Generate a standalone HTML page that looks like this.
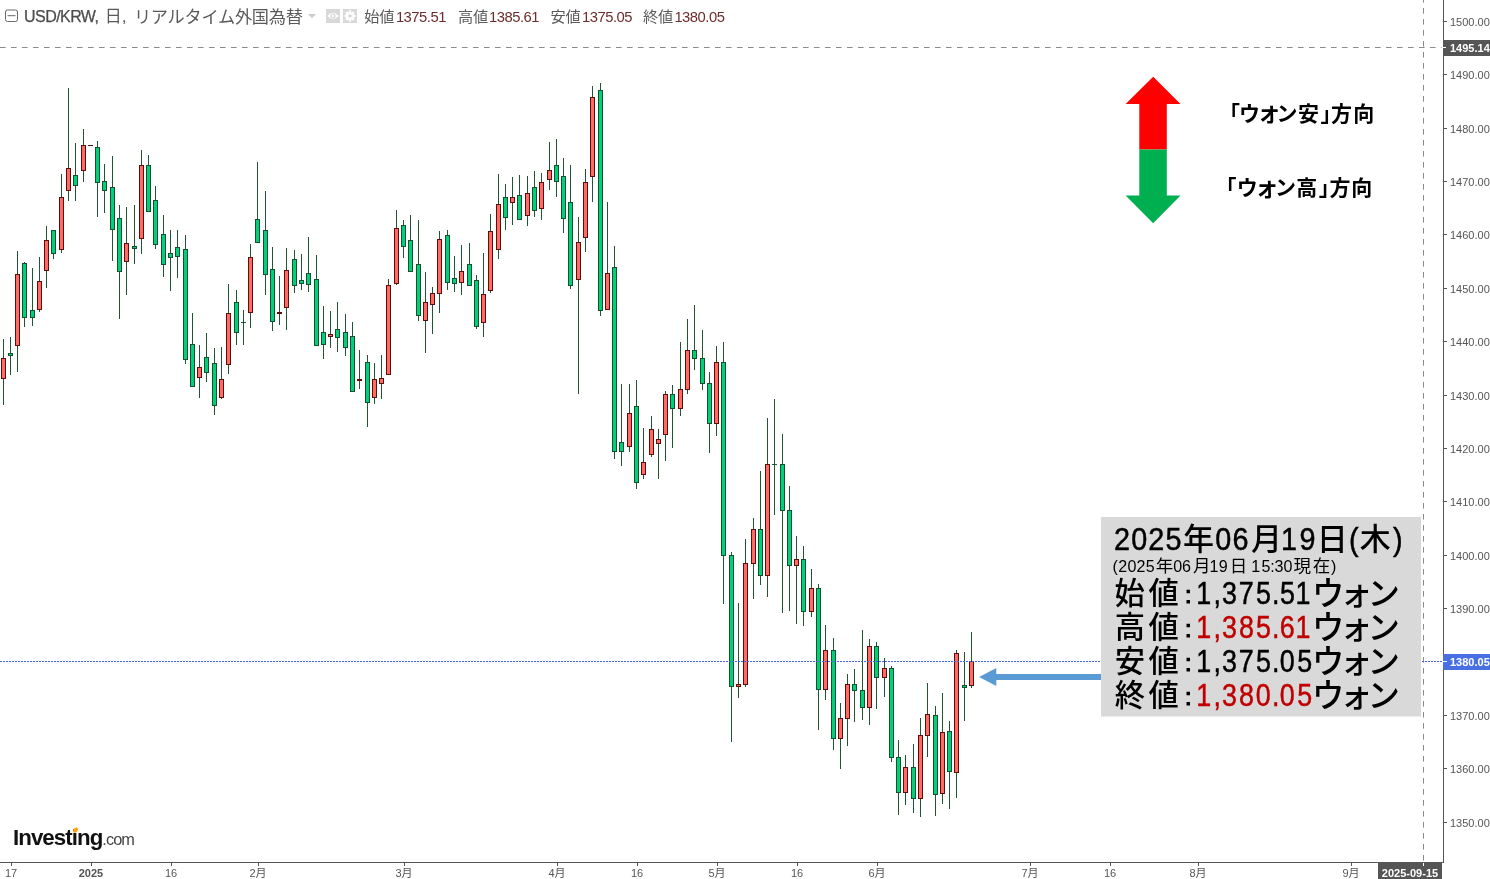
<!DOCTYPE html>
<html lang="ja">
<head>
<meta charset="utf-8">
<title>USD/KRW</title>
<style>
html,body{margin:0;padding:0;background:#fff;}
body{width:1490px;height:879px;position:relative;overflow:hidden;font-family:"Liberation Sans","Noto Sans CJK JP",sans-serif;}
.chart{position:absolute;left:0;top:0;}
.t{position:absolute;white-space:nowrap;line-height:1;}
.yl{position:absolute;left:1450px;font-size:11px;line-height:16px;height:16px;color:#555;white-space:nowrap;}
.yb{color:#fff;font-weight:bold;}
.xl{position:absolute;top:867px;width:60px;text-align:center;font-size:11px;line-height:12px;color:#555;white-space:nowrap;font-family:"Liberation Sans","Noto Sans CJK JP",sans-serif;}
.hd{position:absolute;top:5px;height:22px;line-height:22px;white-space:nowrap;color:#555;}
.hv{color:#6e2c2c;}
.hj{color:#5a5a5a;font-weight:400;}
</style>
</head>
<body>

<svg class="chart" width="1490" height="879" viewBox="0 0 1490 879" shape-rendering="crispEdges">
<g fill="#8a8a8a" shape-rendering="auto">
<rect x="0" y="47" width="5.6" height="1"/>
<rect x="11" y="47" width="5.6" height="1"/>
<rect x="22" y="47" width="5.6" height="1"/>
<rect x="33" y="47" width="5.6" height="1"/>
<rect x="44" y="47" width="5.6" height="1"/>
<rect x="55" y="47" width="5.6" height="1"/>
<rect x="66" y="47" width="5.6" height="1"/>
<rect x="77" y="47" width="5.6" height="1"/>
<rect x="88" y="47" width="5.6" height="1"/>
<rect x="99" y="47" width="5.6" height="1"/>
<rect x="110" y="47" width="5.6" height="1"/>
<rect x="121" y="47" width="5.6" height="1"/>
<rect x="132" y="47" width="5.6" height="1"/>
<rect x="143" y="47" width="5.6" height="1"/>
<rect x="154" y="47" width="5.6" height="1"/>
<rect x="165" y="47" width="5.6" height="1"/>
<rect x="176" y="47" width="5.6" height="1"/>
<rect x="187" y="47" width="5.6" height="1"/>
<rect x="198" y="47" width="5.6" height="1"/>
<rect x="209" y="47" width="5.6" height="1"/>
<rect x="220" y="47" width="5.6" height="1"/>
<rect x="231" y="47" width="5.6" height="1"/>
<rect x="242" y="47" width="5.6" height="1"/>
<rect x="253" y="47" width="5.6" height="1"/>
<rect x="264" y="47" width="5.6" height="1"/>
<rect x="275" y="47" width="5.6" height="1"/>
<rect x="286" y="47" width="5.6" height="1"/>
<rect x="297" y="47" width="5.6" height="1"/>
<rect x="308" y="47" width="5.6" height="1"/>
<rect x="319" y="47" width="5.6" height="1"/>
<rect x="330" y="47" width="5.6" height="1"/>
<rect x="341" y="47" width="5.6" height="1"/>
<rect x="352" y="47" width="5.6" height="1"/>
<rect x="363" y="47" width="5.6" height="1"/>
<rect x="374" y="47" width="5.6" height="1"/>
<rect x="385" y="47" width="5.6" height="1"/>
<rect x="396" y="47" width="5.6" height="1"/>
<rect x="407" y="47" width="5.6" height="1"/>
<rect x="418" y="47" width="5.6" height="1"/>
<rect x="429" y="47" width="5.6" height="1"/>
<rect x="440" y="47" width="5.6" height="1"/>
<rect x="451" y="47" width="5.6" height="1"/>
<rect x="462" y="47" width="5.6" height="1"/>
<rect x="473" y="47" width="5.6" height="1"/>
<rect x="484" y="47" width="5.6" height="1"/>
<rect x="495" y="47" width="5.6" height="1"/>
<rect x="506" y="47" width="5.6" height="1"/>
<rect x="517" y="47" width="5.6" height="1"/>
<rect x="528" y="47" width="5.6" height="1"/>
<rect x="539" y="47" width="5.6" height="1"/>
<rect x="550" y="47" width="5.6" height="1"/>
<rect x="561" y="47" width="5.6" height="1"/>
<rect x="572" y="47" width="5.6" height="1"/>
<rect x="583" y="47" width="5.6" height="1"/>
<rect x="594" y="47" width="5.6" height="1"/>
<rect x="605" y="47" width="5.6" height="1"/>
<rect x="616" y="47" width="5.6" height="1"/>
<rect x="627" y="47" width="5.6" height="1"/>
<rect x="638" y="47" width="5.6" height="1"/>
<rect x="649" y="47" width="5.6" height="1"/>
<rect x="660" y="47" width="5.6" height="1"/>
<rect x="671" y="47" width="5.6" height="1"/>
<rect x="682" y="47" width="5.6" height="1"/>
<rect x="693" y="47" width="5.6" height="1"/>
<rect x="704" y="47" width="5.6" height="1"/>
<rect x="715" y="47" width="5.6" height="1"/>
<rect x="726" y="47" width="5.6" height="1"/>
<rect x="737" y="47" width="5.6" height="1"/>
<rect x="748" y="47" width="5.6" height="1"/>
<rect x="759" y="47" width="5.6" height="1"/>
<rect x="770" y="47" width="5.6" height="1"/>
<rect x="781" y="47" width="5.6" height="1"/>
<rect x="792" y="47" width="5.6" height="1"/>
<rect x="803" y="47" width="5.6" height="1"/>
<rect x="814" y="47" width="5.6" height="1"/>
<rect x="825" y="47" width="5.6" height="1"/>
<rect x="836" y="47" width="5.6" height="1"/>
<rect x="847" y="47" width="5.6" height="1"/>
<rect x="858" y="47" width="5.6" height="1"/>
<rect x="869" y="47" width="5.6" height="1"/>
<rect x="880" y="47" width="5.6" height="1"/>
<rect x="891" y="47" width="5.6" height="1"/>
<rect x="902" y="47" width="5.6" height="1"/>
<rect x="913" y="47" width="5.6" height="1"/>
<rect x="924" y="47" width="5.6" height="1"/>
<rect x="935" y="47" width="5.6" height="1"/>
<rect x="946" y="47" width="5.6" height="1"/>
<rect x="957" y="47" width="5.6" height="1"/>
<rect x="968" y="47" width="5.6" height="1"/>
<rect x="979" y="47" width="5.6" height="1"/>
<rect x="990" y="47" width="5.6" height="1"/>
<rect x="1001" y="47" width="5.6" height="1"/>
<rect x="1012" y="47" width="5.6" height="1"/>
<rect x="1023" y="47" width="5.6" height="1"/>
<rect x="1034" y="47" width="5.6" height="1"/>
<rect x="1045" y="47" width="5.6" height="1"/>
<rect x="1056" y="47" width="5.6" height="1"/>
<rect x="1067" y="47" width="5.6" height="1"/>
<rect x="1078" y="47" width="5.6" height="1"/>
<rect x="1089" y="47" width="5.6" height="1"/>
<rect x="1100" y="47" width="5.6" height="1"/>
<rect x="1111" y="47" width="5.6" height="1"/>
<rect x="1122" y="47" width="5.6" height="1"/>
<rect x="1133" y="47" width="5.6" height="1"/>
<rect x="1144" y="47" width="5.6" height="1"/>
<rect x="1155" y="47" width="5.6" height="1"/>
<rect x="1166" y="47" width="5.6" height="1"/>
<rect x="1177" y="47" width="5.6" height="1"/>
<rect x="1188" y="47" width="5.6" height="1"/>
<rect x="1199" y="47" width="5.6" height="1"/>
<rect x="1210" y="47" width="5.6" height="1"/>
<rect x="1221" y="47" width="5.6" height="1"/>
<rect x="1232" y="47" width="5.6" height="1"/>
<rect x="1243" y="47" width="5.6" height="1"/>
<rect x="1254" y="47" width="5.6" height="1"/>
<rect x="1265" y="47" width="5.6" height="1"/>
<rect x="1276" y="47" width="5.6" height="1"/>
<rect x="1287" y="47" width="5.6" height="1"/>
<rect x="1298" y="47" width="5.6" height="1"/>
<rect x="1309" y="47" width="5.6" height="1"/>
<rect x="1320" y="47" width="5.6" height="1"/>
<rect x="1331" y="47" width="5.6" height="1"/>
<rect x="1342" y="47" width="5.6" height="1"/>
<rect x="1353" y="47" width="5.6" height="1"/>
<rect x="1364" y="47" width="5.6" height="1"/>
<rect x="1375" y="47" width="5.6" height="1"/>
<rect x="1386" y="47" width="5.6" height="1"/>
<rect x="1397" y="47" width="5.6" height="1"/>
<rect x="1408" y="47" width="5.6" height="1"/>
<rect x="1419" y="47" width="5.6" height="1"/>
<rect x="1430" y="47" width="5.6" height="1"/>
<rect x="1441" y="47" width="0.7000000000000455" height="1"/>
<rect x="1423" y="0" width="1" height="2.6"/>
<rect x="1423" y="8" width="1" height="5.6"/>
<rect x="1423" y="19" width="1" height="5.6"/>
<rect x="1423" y="30" width="1" height="5.6"/>
<rect x="1423" y="41" width="1" height="5.6"/>
<rect x="1423" y="52" width="1" height="5.6"/>
<rect x="1423" y="63" width="1" height="5.6"/>
<rect x="1423" y="74" width="1" height="5.6"/>
<rect x="1423" y="85" width="1" height="5.6"/>
<rect x="1423" y="96" width="1" height="5.6"/>
<rect x="1423" y="107" width="1" height="5.6"/>
<rect x="1423" y="118" width="1" height="5.6"/>
<rect x="1423" y="129" width="1" height="5.6"/>
<rect x="1423" y="140" width="1" height="5.6"/>
<rect x="1423" y="151" width="1" height="5.6"/>
<rect x="1423" y="162" width="1" height="5.6"/>
<rect x="1423" y="173" width="1" height="5.6"/>
<rect x="1423" y="184" width="1" height="5.6"/>
<rect x="1423" y="195" width="1" height="5.6"/>
<rect x="1423" y="206" width="1" height="5.6"/>
<rect x="1423" y="217" width="1" height="5.6"/>
<rect x="1423" y="228" width="1" height="5.6"/>
<rect x="1423" y="239" width="1" height="5.6"/>
<rect x="1423" y="250" width="1" height="5.6"/>
<rect x="1423" y="261" width="1" height="5.6"/>
<rect x="1423" y="272" width="1" height="5.6"/>
<rect x="1423" y="283" width="1" height="5.6"/>
<rect x="1423" y="294" width="1" height="5.6"/>
<rect x="1423" y="305" width="1" height="5.6"/>
<rect x="1423" y="316" width="1" height="5.6"/>
<rect x="1423" y="327" width="1" height="5.6"/>
<rect x="1423" y="338" width="1" height="5.6"/>
<rect x="1423" y="349" width="1" height="5.6"/>
<rect x="1423" y="360" width="1" height="5.6"/>
<rect x="1423" y="371" width="1" height="5.6"/>
<rect x="1423" y="382" width="1" height="5.6"/>
<rect x="1423" y="393" width="1" height="5.6"/>
<rect x="1423" y="404" width="1" height="5.6"/>
<rect x="1423" y="415" width="1" height="5.6"/>
<rect x="1423" y="426" width="1" height="5.6"/>
<rect x="1423" y="437" width="1" height="5.6"/>
<rect x="1423" y="448" width="1" height="5.6"/>
<rect x="1423" y="459" width="1" height="5.6"/>
<rect x="1423" y="470" width="1" height="5.6"/>
<rect x="1423" y="481" width="1" height="5.6"/>
<rect x="1423" y="492" width="1" height="5.6"/>
<rect x="1423" y="503" width="1" height="5.6"/>
<rect x="1423" y="514" width="1" height="5.6"/>
<rect x="1423" y="525" width="1" height="5.6"/>
<rect x="1423" y="536" width="1" height="5.6"/>
<rect x="1423" y="547" width="1" height="5.6"/>
<rect x="1423" y="558" width="1" height="5.6"/>
<rect x="1423" y="569" width="1" height="5.6"/>
<rect x="1423" y="580" width="1" height="5.6"/>
<rect x="1423" y="591" width="1" height="5.6"/>
<rect x="1423" y="602" width="1" height="5.6"/>
<rect x="1423" y="613" width="1" height="5.6"/>
<rect x="1423" y="624" width="1" height="5.6"/>
<rect x="1423" y="635" width="1" height="5.6"/>
<rect x="1423" y="646" width="1" height="5.6"/>
<rect x="1423" y="657" width="1" height="5.6"/>
<rect x="1423" y="668" width="1" height="5.6"/>
<rect x="1423" y="679" width="1" height="5.6"/>
<rect x="1423" y="690" width="1" height="5.6"/>
<rect x="1423" y="701" width="1" height="5.6"/>
<rect x="1423" y="712" width="1" height="5.6"/>
<rect x="1423" y="723" width="1" height="5.6"/>
<rect x="1423" y="734" width="1" height="5.6"/>
<rect x="1423" y="745" width="1" height="5.6"/>
<rect x="1423" y="756" width="1" height="5.6"/>
<rect x="1423" y="767" width="1" height="5.6"/>
<rect x="1423" y="778" width="1" height="5.6"/>
<rect x="1423" y="789" width="1" height="5.6"/>
<rect x="1423" y="800" width="1" height="5.6"/>
<rect x="1423" y="811" width="1" height="5.6"/>
<rect x="1423" y="822" width="1" height="5.6"/>
<rect x="1423" y="833" width="1" height="5.6"/>
<rect x="1423" y="844" width="1" height="5.6"/>
<rect x="1423" y="855" width="1" height="5.6"/>
</g>
<g>
<rect x="3" y="339" width="1" height="66" fill="#225534"/>
<rect x="1" y="358" width="5" height="21" fill="#5a0f0a"/>
<rect x="2" y="359" width="3" height="19" fill="#ff6b64"/>
<rect x="10" y="337" width="1" height="38" fill="#225534"/>
<rect x="8" y="353" width="5" height="3" fill="#14502d"/>
<rect x="9" y="354" width="3" height="1" fill="#00d07a"/>
<rect x="17" y="251" width="1" height="121" fill="#225534"/>
<rect x="15" y="274" width="5" height="72" fill="#5a0f0a"/>
<rect x="16" y="275" width="3" height="70" fill="#ff6b64"/>
<rect x="24" y="262" width="1" height="65" fill="#225534"/>
<rect x="22" y="263" width="5" height="55" fill="#14502d"/>
<rect x="23" y="264" width="3" height="53" fill="#00d07a"/>
<rect x="32" y="268" width="1" height="58" fill="#225534"/>
<rect x="30" y="310" width="5" height="8" fill="#14502d"/>
<rect x="31" y="311" width="3" height="6" fill="#00d07a"/>
<rect x="39" y="257" width="1" height="55" fill="#225534"/>
<rect x="37" y="281" width="5" height="29" fill="#5a0f0a"/>
<rect x="38" y="282" width="3" height="27" fill="#ff6b64"/>
<rect x="46" y="226" width="1" height="62" fill="#225534"/>
<rect x="44" y="240" width="5" height="31" fill="#5a0f0a"/>
<rect x="45" y="241" width="3" height="29" fill="#ff6b64"/>
<rect x="53" y="230" width="1" height="29" fill="#225534"/>
<rect x="51" y="230" width="5" height="24" fill="#14502d"/>
<rect x="52" y="231" width="3" height="22" fill="#00d07a"/>
<rect x="61" y="174" width="1" height="79" fill="#225534"/>
<rect x="59" y="197" width="5" height="53" fill="#5a0f0a"/>
<rect x="60" y="198" width="3" height="51" fill="#ff6b64"/>
<rect x="68" y="88" width="1" height="113" fill="#225534"/>
<rect x="66" y="168" width="5" height="23" fill="#5a0f0a"/>
<rect x="67" y="169" width="3" height="21" fill="#ff6b64"/>
<rect x="75" y="143" width="1" height="58" fill="#225534"/>
<rect x="73" y="175" width="5" height="11" fill="#14502d"/>
<rect x="74" y="176" width="3" height="9" fill="#00d07a"/>
<rect x="83" y="129" width="1" height="53" fill="#225534"/>
<rect x="81" y="145" width="5" height="26" fill="#5a0f0a"/>
<rect x="82" y="146" width="3" height="24" fill="#ff6b64"/>
<rect x="88" y="145" width="5" height="1" fill="#5a0f0a"/>
<rect x="97" y="141" width="1" height="76" fill="#225534"/>
<rect x="95" y="147" width="5" height="36" fill="#14502d"/>
<rect x="96" y="148" width="3" height="34" fill="#00d07a"/>
<rect x="104" y="164" width="1" height="49" fill="#225534"/>
<rect x="102" y="181" width="5" height="10" fill="#14502d"/>
<rect x="103" y="182" width="3" height="8" fill="#00d07a"/>
<rect x="112" y="156" width="1" height="105" fill="#225534"/>
<rect x="110" y="187" width="5" height="43" fill="#14502d"/>
<rect x="111" y="188" width="3" height="41" fill="#00d07a"/>
<rect x="119" y="205" width="1" height="114" fill="#225534"/>
<rect x="117" y="218" width="5" height="54" fill="#14502d"/>
<rect x="118" y="219" width="3" height="52" fill="#00d07a"/>
<rect x="126" y="207" width="1" height="88" fill="#225534"/>
<rect x="124" y="243" width="5" height="19" fill="#5a0f0a"/>
<rect x="125" y="244" width="3" height="17" fill="#ff6b64"/>
<rect x="134" y="205" width="1" height="59" fill="#225534"/>
<rect x="132" y="246" width="5" height="3" fill="#14502d"/>
<rect x="133" y="247" width="3" height="1" fill="#00d07a"/>
<rect x="141" y="150" width="1" height="104" fill="#225534"/>
<rect x="139" y="165" width="5" height="74" fill="#5a0f0a"/>
<rect x="140" y="166" width="3" height="72" fill="#ff6b64"/>
<rect x="148" y="155" width="1" height="57" fill="#225534"/>
<rect x="146" y="165" width="5" height="47" fill="#14502d"/>
<rect x="147" y="166" width="3" height="45" fill="#00d07a"/>
<rect x="155" y="186" width="1" height="63" fill="#225534"/>
<rect x="153" y="200" width="5" height="45" fill="#14502d"/>
<rect x="154" y="201" width="3" height="43" fill="#00d07a"/>
<rect x="163" y="215" width="1" height="62" fill="#225534"/>
<rect x="161" y="234" width="5" height="31" fill="#14502d"/>
<rect x="162" y="235" width="3" height="29" fill="#00d07a"/>
<rect x="170" y="230" width="1" height="61" fill="#225534"/>
<rect x="168" y="253" width="5" height="5" fill="#14502d"/>
<rect x="169" y="254" width="3" height="3" fill="#00d07a"/>
<rect x="177" y="230" width="1" height="48" fill="#225534"/>
<rect x="175" y="247" width="5" height="10" fill="#14502d"/>
<rect x="176" y="248" width="3" height="8" fill="#00d07a"/>
<rect x="185" y="235" width="1" height="129" fill="#225534"/>
<rect x="183" y="249" width="5" height="111" fill="#14502d"/>
<rect x="184" y="250" width="3" height="109" fill="#00d07a"/>
<rect x="192" y="313" width="1" height="74" fill="#225534"/>
<rect x="190" y="344" width="5" height="43" fill="#14502d"/>
<rect x="191" y="345" width="3" height="41" fill="#00d07a"/>
<rect x="199" y="345" width="1" height="53" fill="#225534"/>
<rect x="197" y="367" width="5" height="11" fill="#5a0f0a"/>
<rect x="198" y="368" width="3" height="9" fill="#ff6b64"/>
<rect x="206" y="333" width="1" height="49" fill="#225534"/>
<rect x="204" y="357" width="5" height="16" fill="#14502d"/>
<rect x="205" y="358" width="3" height="14" fill="#00d07a"/>
<rect x="214" y="348" width="1" height="67" fill="#225534"/>
<rect x="212" y="363" width="5" height="43" fill="#14502d"/>
<rect x="213" y="364" width="3" height="41" fill="#00d07a"/>
<rect x="221" y="347" width="1" height="52" fill="#225534"/>
<rect x="219" y="379" width="5" height="19" fill="#5a0f0a"/>
<rect x="220" y="380" width="3" height="17" fill="#ff6b64"/>
<rect x="228" y="284" width="1" height="90" fill="#225534"/>
<rect x="226" y="313" width="5" height="52" fill="#5a0f0a"/>
<rect x="227" y="314" width="3" height="50" fill="#ff6b64"/>
<rect x="236" y="290" width="1" height="55" fill="#225534"/>
<rect x="234" y="302" width="5" height="31" fill="#14502d"/>
<rect x="235" y="303" width="3" height="29" fill="#00d07a"/>
<rect x="243" y="310" width="1" height="35" fill="#225534"/>
<rect x="241" y="322" width="5" height="1" fill="#225534"/>
<rect x="250" y="244" width="1" height="84" fill="#225534"/>
<rect x="248" y="257" width="5" height="56" fill="#5a0f0a"/>
<rect x="249" y="258" width="3" height="54" fill="#ff6b64"/>
<rect x="257" y="162" width="1" height="81" fill="#225534"/>
<rect x="255" y="219" width="5" height="24" fill="#14502d"/>
<rect x="256" y="220" width="3" height="22" fill="#00d07a"/>
<rect x="265" y="191" width="1" height="104" fill="#225534"/>
<rect x="263" y="230" width="5" height="45" fill="#14502d"/>
<rect x="264" y="231" width="3" height="43" fill="#00d07a"/>
<rect x="272" y="247" width="1" height="84" fill="#225534"/>
<rect x="270" y="269" width="5" height="53" fill="#14502d"/>
<rect x="271" y="270" width="3" height="51" fill="#00d07a"/>
<rect x="279" y="276" width="1" height="49" fill="#225534"/>
<rect x="277" y="312" width="5" height="2" fill="#5a0f0a"/>
<rect x="286" y="248" width="1" height="82" fill="#225534"/>
<rect x="284" y="270" width="5" height="38" fill="#5a0f0a"/>
<rect x="285" y="271" width="3" height="36" fill="#ff6b64"/>
<rect x="294" y="250" width="1" height="43" fill="#225534"/>
<rect x="292" y="259" width="5" height="27" fill="#14502d"/>
<rect x="293" y="260" width="3" height="25" fill="#00d07a"/>
<rect x="301" y="254" width="1" height="36" fill="#225534"/>
<rect x="299" y="280" width="5" height="4" fill="#14502d"/>
<rect x="300" y="281" width="3" height="2" fill="#00d07a"/>
<rect x="308" y="237" width="1" height="55" fill="#225534"/>
<rect x="306" y="273" width="5" height="12" fill="#14502d"/>
<rect x="307" y="274" width="3" height="10" fill="#00d07a"/>
<rect x="316" y="255" width="1" height="91" fill="#225534"/>
<rect x="314" y="279" width="5" height="67" fill="#14502d"/>
<rect x="315" y="280" width="3" height="65" fill="#00d07a"/>
<rect x="323" y="306" width="1" height="53" fill="#225534"/>
<rect x="321" y="332" width="5" height="13" fill="#14502d"/>
<rect x="322" y="333" width="3" height="11" fill="#00d07a"/>
<rect x="330" y="311" width="1" height="37" fill="#225534"/>
<rect x="328" y="334" width="5" height="3" fill="#5a0f0a"/>
<rect x="329" y="335" width="3" height="1" fill="#ff6b64"/>
<rect x="337" y="302" width="1" height="50" fill="#225534"/>
<rect x="335" y="329" width="5" height="9" fill="#14502d"/>
<rect x="336" y="330" width="3" height="7" fill="#00d07a"/>
<rect x="345" y="314" width="1" height="42" fill="#225534"/>
<rect x="343" y="332" width="5" height="16" fill="#14502d"/>
<rect x="344" y="333" width="3" height="14" fill="#00d07a"/>
<rect x="352" y="322" width="1" height="70" fill="#225534"/>
<rect x="350" y="336" width="5" height="56" fill="#14502d"/>
<rect x="351" y="337" width="3" height="54" fill="#00d07a"/>
<rect x="359" y="350" width="1" height="39" fill="#225534"/>
<rect x="357" y="379" width="5" height="2" fill="#5a0f0a"/>
<rect x="367" y="355" width="1" height="72" fill="#225534"/>
<rect x="365" y="362" width="5" height="41" fill="#14502d"/>
<rect x="366" y="363" width="3" height="39" fill="#00d07a"/>
<rect x="374" y="363" width="1" height="41" fill="#225534"/>
<rect x="372" y="379" width="5" height="19" fill="#5a0f0a"/>
<rect x="373" y="380" width="3" height="17" fill="#ff6b64"/>
<rect x="381" y="355" width="1" height="44" fill="#225534"/>
<rect x="379" y="378" width="5" height="6" fill="#5a0f0a"/>
<rect x="380" y="379" width="3" height="4" fill="#ff6b64"/>
<rect x="388" y="279" width="1" height="96" fill="#225534"/>
<rect x="386" y="285" width="5" height="90" fill="#5a0f0a"/>
<rect x="387" y="286" width="3" height="88" fill="#ff6b64"/>
<rect x="396" y="210" width="1" height="75" fill="#225534"/>
<rect x="394" y="228" width="5" height="56" fill="#5a0f0a"/>
<rect x="395" y="229" width="3" height="54" fill="#ff6b64"/>
<rect x="403" y="220" width="1" height="38" fill="#225534"/>
<rect x="401" y="225" width="5" height="22" fill="#14502d"/>
<rect x="402" y="226" width="3" height="20" fill="#00d07a"/>
<rect x="410" y="215" width="1" height="57" fill="#225534"/>
<rect x="408" y="240" width="5" height="32" fill="#14502d"/>
<rect x="409" y="241" width="3" height="30" fill="#00d07a"/>
<rect x="418" y="220" width="1" height="101" fill="#225534"/>
<rect x="416" y="264" width="5" height="52" fill="#14502d"/>
<rect x="417" y="265" width="3" height="50" fill="#00d07a"/>
<rect x="425" y="272" width="1" height="81" fill="#225534"/>
<rect x="423" y="302" width="5" height="19" fill="#5a0f0a"/>
<rect x="424" y="303" width="3" height="17" fill="#ff6b64"/>
<rect x="432" y="287" width="1" height="47" fill="#225534"/>
<rect x="430" y="293" width="5" height="12" fill="#5a0f0a"/>
<rect x="431" y="294" width="3" height="10" fill="#ff6b64"/>
<rect x="439" y="231" width="1" height="82" fill="#225534"/>
<rect x="437" y="239" width="5" height="55" fill="#5a0f0a"/>
<rect x="438" y="240" width="3" height="53" fill="#ff6b64"/>
<rect x="447" y="230" width="1" height="60" fill="#225534"/>
<rect x="445" y="235" width="5" height="48" fill="#14502d"/>
<rect x="446" y="236" width="3" height="46" fill="#00d07a"/>
<rect x="454" y="256" width="1" height="36" fill="#225534"/>
<rect x="452" y="278" width="5" height="6" fill="#14502d"/>
<rect x="453" y="279" width="3" height="4" fill="#00d07a"/>
<rect x="461" y="245" width="1" height="50" fill="#225534"/>
<rect x="459" y="271" width="5" height="12" fill="#5a0f0a"/>
<rect x="460" y="272" width="3" height="10" fill="#ff6b64"/>
<rect x="469" y="243" width="1" height="43" fill="#225534"/>
<rect x="467" y="264" width="5" height="22" fill="#14502d"/>
<rect x="468" y="265" width="3" height="20" fill="#00d07a"/>
<rect x="476" y="275" width="1" height="54" fill="#225534"/>
<rect x="474" y="280" width="5" height="47" fill="#14502d"/>
<rect x="475" y="281" width="3" height="45" fill="#00d07a"/>
<rect x="483" y="253" width="1" height="84" fill="#225534"/>
<rect x="481" y="294" width="5" height="29" fill="#5a0f0a"/>
<rect x="482" y="295" width="3" height="27" fill="#ff6b64"/>
<rect x="490" y="214" width="1" height="79" fill="#225534"/>
<rect x="488" y="231" width="5" height="60" fill="#5a0f0a"/>
<rect x="489" y="232" width="3" height="58" fill="#ff6b64"/>
<rect x="498" y="174" width="1" height="85" fill="#225534"/>
<rect x="496" y="204" width="5" height="46" fill="#5a0f0a"/>
<rect x="497" y="205" width="3" height="44" fill="#ff6b64"/>
<rect x="505" y="184" width="1" height="46" fill="#225534"/>
<rect x="503" y="197" width="5" height="21" fill="#14502d"/>
<rect x="504" y="198" width="3" height="19" fill="#00d07a"/>
<rect x="512" y="177" width="1" height="48" fill="#225534"/>
<rect x="510" y="197" width="5" height="6" fill="#5a0f0a"/>
<rect x="511" y="198" width="3" height="4" fill="#ff6b64"/>
<rect x="519" y="175" width="1" height="45" fill="#225534"/>
<rect x="517" y="195" width="5" height="25" fill="#14502d"/>
<rect x="518" y="196" width="3" height="23" fill="#00d07a"/>
<rect x="527" y="176" width="1" height="50" fill="#225534"/>
<rect x="525" y="193" width="5" height="23" fill="#5a0f0a"/>
<rect x="526" y="194" width="3" height="21" fill="#ff6b64"/>
<rect x="534" y="171" width="1" height="46" fill="#225534"/>
<rect x="532" y="187" width="5" height="24" fill="#14502d"/>
<rect x="533" y="188" width="3" height="22" fill="#00d07a"/>
<rect x="541" y="173" width="1" height="47" fill="#225534"/>
<rect x="539" y="182" width="5" height="27" fill="#5a0f0a"/>
<rect x="540" y="183" width="3" height="25" fill="#ff6b64"/>
<rect x="549" y="142" width="1" height="48" fill="#225534"/>
<rect x="547" y="170" width="5" height="10" fill="#5a0f0a"/>
<rect x="548" y="171" width="3" height="8" fill="#ff6b64"/>
<rect x="556" y="139" width="1" height="58" fill="#225534"/>
<rect x="554" y="165" width="5" height="17" fill="#14502d"/>
<rect x="555" y="166" width="3" height="15" fill="#00d07a"/>
<rect x="563" y="158" width="1" height="75" fill="#225534"/>
<rect x="561" y="176" width="5" height="43" fill="#14502d"/>
<rect x="562" y="177" width="3" height="41" fill="#00d07a"/>
<rect x="570" y="165" width="1" height="124" fill="#225534"/>
<rect x="568" y="202" width="5" height="84" fill="#14502d"/>
<rect x="569" y="203" width="3" height="82" fill="#00d07a"/>
<rect x="578" y="217" width="1" height="177" fill="#225534"/>
<rect x="576" y="242" width="5" height="38" fill="#5a0f0a"/>
<rect x="577" y="243" width="3" height="36" fill="#ff6b64"/>
<rect x="585" y="169" width="1" height="83" fill="#225534"/>
<rect x="583" y="182" width="5" height="56" fill="#5a0f0a"/>
<rect x="584" y="183" width="3" height="54" fill="#ff6b64"/>
<rect x="592" y="86" width="1" height="116" fill="#225534"/>
<rect x="590" y="97" width="5" height="80" fill="#5a0f0a"/>
<rect x="591" y="98" width="3" height="78" fill="#ff6b64"/>
<rect x="600" y="83" width="1" height="233" fill="#225534"/>
<rect x="598" y="90" width="5" height="221" fill="#14502d"/>
<rect x="599" y="91" width="3" height="219" fill="#00d07a"/>
<rect x="607" y="202" width="1" height="108" fill="#225534"/>
<rect x="605" y="273" width="5" height="37" fill="#5a0f0a"/>
<rect x="606" y="274" width="3" height="35" fill="#ff6b64"/>
<rect x="614" y="246" width="1" height="213" fill="#225534"/>
<rect x="612" y="267" width="5" height="185" fill="#14502d"/>
<rect x="613" y="268" width="3" height="183" fill="#00d07a"/>
<rect x="621" y="384" width="1" height="82" fill="#225534"/>
<rect x="619" y="442" width="5" height="10" fill="#14502d"/>
<rect x="620" y="443" width="3" height="8" fill="#00d07a"/>
<rect x="629" y="384" width="1" height="68" fill="#225534"/>
<rect x="627" y="413" width="5" height="34" fill="#5a0f0a"/>
<rect x="628" y="414" width="3" height="32" fill="#ff6b64"/>
<rect x="636" y="380" width="1" height="109" fill="#225534"/>
<rect x="634" y="406" width="5" height="77" fill="#14502d"/>
<rect x="635" y="407" width="3" height="75" fill="#00d07a"/>
<rect x="643" y="428" width="1" height="51" fill="#225534"/>
<rect x="641" y="462" width="5" height="13" fill="#5a0f0a"/>
<rect x="642" y="463" width="3" height="11" fill="#ff6b64"/>
<rect x="651" y="416" width="1" height="41" fill="#225534"/>
<rect x="649" y="429" width="5" height="26" fill="#5a0f0a"/>
<rect x="650" y="430" width="3" height="24" fill="#ff6b64"/>
<rect x="658" y="429" width="1" height="50" fill="#225534"/>
<rect x="656" y="439" width="5" height="5" fill="#5a0f0a"/>
<rect x="657" y="440" width="3" height="3" fill="#ff6b64"/>
<rect x="665" y="391" width="1" height="70" fill="#225534"/>
<rect x="663" y="394" width="5" height="41" fill="#5a0f0a"/>
<rect x="664" y="395" width="3" height="39" fill="#ff6b64"/>
<rect x="672" y="385" width="1" height="63" fill="#225534"/>
<rect x="670" y="394" width="5" height="15" fill="#14502d"/>
<rect x="671" y="395" width="3" height="13" fill="#00d07a"/>
<rect x="680" y="342" width="1" height="74" fill="#225534"/>
<rect x="678" y="389" width="5" height="20" fill="#5a0f0a"/>
<rect x="679" y="390" width="3" height="18" fill="#ff6b64"/>
<rect x="687" y="319" width="1" height="75" fill="#225534"/>
<rect x="685" y="350" width="5" height="40" fill="#5a0f0a"/>
<rect x="686" y="351" width="3" height="38" fill="#ff6b64"/>
<rect x="694" y="305" width="1" height="65" fill="#225534"/>
<rect x="692" y="350" width="5" height="9" fill="#14502d"/>
<rect x="693" y="351" width="3" height="7" fill="#00d07a"/>
<rect x="702" y="330" width="1" height="60" fill="#225534"/>
<rect x="700" y="358" width="5" height="26" fill="#14502d"/>
<rect x="701" y="359" width="3" height="24" fill="#00d07a"/>
<rect x="709" y="372" width="1" height="81" fill="#225534"/>
<rect x="707" y="383" width="5" height="41" fill="#14502d"/>
<rect x="708" y="384" width="3" height="39" fill="#00d07a"/>
<rect x="716" y="346" width="1" height="90" fill="#225534"/>
<rect x="714" y="362" width="5" height="62" fill="#5a0f0a"/>
<rect x="715" y="363" width="3" height="60" fill="#ff6b64"/>
<rect x="723" y="342" width="1" height="262" fill="#225534"/>
<rect x="721" y="362" width="5" height="194" fill="#14502d"/>
<rect x="722" y="363" width="3" height="192" fill="#00d07a"/>
<rect x="731" y="552" width="1" height="190" fill="#225534"/>
<rect x="729" y="555" width="5" height="132" fill="#14502d"/>
<rect x="730" y="556" width="3" height="130" fill="#00d07a"/>
<rect x="738" y="603" width="1" height="95" fill="#225534"/>
<rect x="736" y="684" width="5" height="3" fill="#5a0f0a"/>
<rect x="737" y="685" width="3" height="1" fill="#ff6b64"/>
<rect x="745" y="539" width="1" height="148" fill="#225534"/>
<rect x="743" y="563" width="5" height="122" fill="#5a0f0a"/>
<rect x="744" y="564" width="3" height="120" fill="#ff6b64"/>
<rect x="753" y="518" width="1" height="81" fill="#225534"/>
<rect x="751" y="529" width="5" height="35" fill="#5a0f0a"/>
<rect x="752" y="530" width="3" height="33" fill="#ff6b64"/>
<rect x="760" y="471" width="1" height="114" fill="#225534"/>
<rect x="758" y="529" width="5" height="47" fill="#14502d"/>
<rect x="759" y="530" width="3" height="45" fill="#00d07a"/>
<rect x="767" y="418" width="1" height="179" fill="#225534"/>
<rect x="765" y="464" width="5" height="112" fill="#5a0f0a"/>
<rect x="766" y="465" width="3" height="110" fill="#ff6b64"/>
<rect x="774" y="399" width="1" height="116" fill="#225534"/>
<rect x="772" y="464" width="5" height="1" fill="#225534"/>
<rect x="782" y="434" width="1" height="179" fill="#225534"/>
<rect x="780" y="464" width="5" height="47" fill="#14502d"/>
<rect x="781" y="465" width="3" height="45" fill="#00d07a"/>
<rect x="789" y="486" width="1" height="125" fill="#225534"/>
<rect x="787" y="510" width="5" height="56" fill="#14502d"/>
<rect x="788" y="511" width="3" height="54" fill="#00d07a"/>
<rect x="796" y="536" width="1" height="88" fill="#225534"/>
<rect x="794" y="559" width="5" height="7" fill="#5a0f0a"/>
<rect x="795" y="560" width="3" height="5" fill="#ff6b64"/>
<rect x="803" y="546" width="1" height="80" fill="#225534"/>
<rect x="801" y="559" width="5" height="53" fill="#14502d"/>
<rect x="802" y="560" width="3" height="51" fill="#00d07a"/>
<rect x="811" y="569" width="1" height="48" fill="#225534"/>
<rect x="809" y="588" width="5" height="24" fill="#5a0f0a"/>
<rect x="810" y="589" width="3" height="22" fill="#ff6b64"/>
<rect x="818" y="584" width="1" height="146" fill="#225534"/>
<rect x="816" y="588" width="5" height="102" fill="#14502d"/>
<rect x="817" y="589" width="3" height="100" fill="#00d07a"/>
<rect x="825" y="625" width="1" height="75" fill="#225534"/>
<rect x="823" y="650" width="5" height="40" fill="#5a0f0a"/>
<rect x="824" y="651" width="3" height="38" fill="#ff6b64"/>
<rect x="833" y="638" width="1" height="112" fill="#225534"/>
<rect x="831" y="650" width="5" height="89" fill="#14502d"/>
<rect x="832" y="651" width="3" height="87" fill="#00d07a"/>
<rect x="840" y="703" width="1" height="66" fill="#225534"/>
<rect x="838" y="718" width="5" height="21" fill="#5a0f0a"/>
<rect x="839" y="719" width="3" height="19" fill="#ff6b64"/>
<rect x="847" y="674" width="1" height="72" fill="#225534"/>
<rect x="845" y="684" width="5" height="35" fill="#5a0f0a"/>
<rect x="846" y="685" width="3" height="33" fill="#ff6b64"/>
<rect x="854" y="669" width="1" height="53" fill="#225534"/>
<rect x="852" y="684" width="5" height="7" fill="#14502d"/>
<rect x="853" y="685" width="3" height="5" fill="#00d07a"/>
<rect x="862" y="630" width="1" height="90" fill="#225534"/>
<rect x="860" y="690" width="5" height="18" fill="#14502d"/>
<rect x="861" y="691" width="3" height="16" fill="#00d07a"/>
<rect x="869" y="639" width="1" height="86" fill="#225534"/>
<rect x="867" y="646" width="5" height="62" fill="#5a0f0a"/>
<rect x="868" y="647" width="3" height="60" fill="#ff6b64"/>
<rect x="876" y="642" width="1" height="67" fill="#225534"/>
<rect x="874" y="646" width="5" height="32" fill="#14502d"/>
<rect x="875" y="647" width="3" height="30" fill="#00d07a"/>
<rect x="884" y="658" width="1" height="39" fill="#225534"/>
<rect x="882" y="668" width="5" height="10" fill="#5a0f0a"/>
<rect x="883" y="669" width="3" height="8" fill="#ff6b64"/>
<rect x="891" y="666" width="1" height="96" fill="#225534"/>
<rect x="889" y="668" width="5" height="90" fill="#14502d"/>
<rect x="890" y="669" width="3" height="88" fill="#00d07a"/>
<rect x="898" y="740" width="1" height="75" fill="#225534"/>
<rect x="896" y="757" width="5" height="36" fill="#14502d"/>
<rect x="897" y="758" width="3" height="34" fill="#00d07a"/>
<rect x="905" y="755" width="1" height="50" fill="#225534"/>
<rect x="903" y="767" width="5" height="26" fill="#5a0f0a"/>
<rect x="904" y="768" width="3" height="24" fill="#ff6b64"/>
<rect x="913" y="744" width="1" height="69" fill="#225534"/>
<rect x="911" y="767" width="5" height="32" fill="#14502d"/>
<rect x="912" y="768" width="3" height="30" fill="#00d07a"/>
<rect x="920" y="718" width="1" height="99" fill="#225534"/>
<rect x="918" y="735" width="5" height="64" fill="#5a0f0a"/>
<rect x="919" y="736" width="3" height="62" fill="#ff6b64"/>
<rect x="927" y="683" width="1" height="74" fill="#225534"/>
<rect x="925" y="714" width="5" height="22" fill="#5a0f0a"/>
<rect x="926" y="715" width="3" height="20" fill="#ff6b64"/>
<rect x="935" y="706" width="1" height="110" fill="#225534"/>
<rect x="933" y="715" width="5" height="80" fill="#14502d"/>
<rect x="934" y="716" width="3" height="78" fill="#00d07a"/>
<rect x="942" y="693" width="1" height="111" fill="#225534"/>
<rect x="940" y="732" width="5" height="62" fill="#5a0f0a"/>
<rect x="941" y="733" width="3" height="60" fill="#ff6b64"/>
<rect x="949" y="721" width="1" height="88" fill="#225534"/>
<rect x="947" y="731" width="5" height="41" fill="#14502d"/>
<rect x="948" y="732" width="3" height="39" fill="#00d07a"/>
<rect x="956" y="650" width="1" height="148" fill="#225534"/>
<rect x="954" y="653" width="5" height="120" fill="#5a0f0a"/>
<rect x="955" y="654" width="3" height="118" fill="#ff6b64"/>
<rect x="964" y="652" width="1" height="69" fill="#225534"/>
<rect x="962" y="685" width="5" height="3" fill="#14502d"/>
<rect x="963" y="686" width="3" height="1" fill="#00d07a"/>
<rect x="971" y="632" width="1" height="56" fill="#225534"/>
<rect x="969" y="661" width="5" height="25" fill="#5a0f0a"/>
<rect x="970" y="662" width="3" height="23" fill="#ff6b64"/>
</g>
<line x1="0" y1="661.5" x2="1443" y2="661.5" stroke="#4464e4" stroke-width="1" stroke-dasharray="2 1"/>
<rect x="1443" y="0" width="1" height="863" fill="#555555"/>
<rect x="0" y="862" width="1444" height="1" fill="#555555"/>
<rect x="1444" y="21" width="3" height="1" fill="#555555"/>
<rect x="1444" y="74" width="3" height="1" fill="#555555"/>
<rect x="1444" y="128" width="3" height="1" fill="#555555"/>
<rect x="1444" y="181" width="3" height="1" fill="#555555"/>
<rect x="1444" y="234" width="3" height="1" fill="#555555"/>
<rect x="1444" y="288" width="3" height="1" fill="#555555"/>
<rect x="1444" y="341" width="3" height="1" fill="#555555"/>
<rect x="1444" y="395" width="3" height="1" fill="#555555"/>
<rect x="1444" y="448" width="3" height="1" fill="#555555"/>
<rect x="1444" y="501" width="3" height="1" fill="#555555"/>
<rect x="1444" y="555" width="3" height="1" fill="#555555"/>
<rect x="1444" y="608" width="3" height="1" fill="#555555"/>
<rect x="1444" y="715" width="3" height="1" fill="#555555"/>
<rect x="1444" y="768" width="3" height="1" fill="#555555"/>
<rect x="1444" y="822" width="3" height="1" fill="#555555"/>
<rect x="11" y="863" width="1" height="3" fill="#555555"/>
<rect x="91" y="863" width="1" height="3" fill="#555555"/>
<rect x="171" y="863" width="1" height="3" fill="#555555"/>
<rect x="258" y="863" width="1" height="3" fill="#555555"/>
<rect x="404" y="863" width="1" height="3" fill="#555555"/>
<rect x="557" y="863" width="1" height="3" fill="#555555"/>
<rect x="637" y="863" width="1" height="3" fill="#555555"/>
<rect x="717" y="863" width="1" height="3" fill="#555555"/>
<rect x="797" y="863" width="1" height="3" fill="#555555"/>
<rect x="877" y="863" width="1" height="3" fill="#555555"/>
<rect x="1030" y="863" width="1" height="3" fill="#555555"/>
<rect x="1110" y="863" width="1" height="3" fill="#555555"/>
<rect x="1198" y="863" width="1" height="3" fill="#555555"/>
<rect x="1351" y="863" width="1" height="3" fill="#555555"/>
<rect x="1444" y="40" width="46" height="16" fill="#555555"/>
<rect x="1443" y="47" width="3" height="1" fill="#ffffff"/>
<rect x="1443" y="654" width="47" height="16" fill="#4870e2"/>
<rect x="1443" y="661" width="4" height="1" fill="#ffffff"/>
<rect x="1378" y="863" width="64" height="16" fill="#555555"/>
<rect x="1423" y="863" width="1" height="3" fill="#ffffff"/>
<g shape-rendering="auto">
<polygon points="1153.2,76.8 1180.5,104 1166.8,104 1166.8,149.5 1139.3,149.5 1139.3,104 1125.6,104" fill="#ff0000"/>
<polygon points="1139.3,149.5 1166.8,149.5 1166.8,195.6 1180.5,195.6 1153.2,223.2 1125.6,195.6 1139.3,195.6" fill="#00b050"/>
<polygon points="979.1,677 996.3,668.1 996.3,674.1 1101,674.1 1101,680 996.3,680 996.3,686" fill="#5b9bd5"/>
</g>
<rect x="1101" y="517" width="320" height="199.5" fill="#d9d9d9" shape-rendering="auto"/>
<g class="info" shape-rendering="auto">
<g>
<text transform="translate(1114.1 0) scale(0.9 1)" stroke-width="0.5" xml:space="preserve" x="0.0 19.1 38.0 57.2" y="550.2 550.2 550.2 550.2" font-family="'Liberation Sans','Noto Sans CJK JP',sans-serif"><tspan font-size="32" fill="#000" stroke="#000">2025</tspan></text>
<text font-weight="500" xml:space="preserve" x="1183.1" y="550.0" font-family="'Liberation Sans','Noto Sans CJK JP',sans-serif"><tspan font-size="31" fill="#000">年</tspan></text>
<text transform="translate(1215.3 0) scale(0.9 1)" stroke-width="0.5" xml:space="preserve" x="0.0 19.1" y="550.2 550.2" font-family="'Liberation Sans','Noto Sans CJK JP',sans-serif"><tspan font-size="32" fill="#000" stroke="#000">06</tspan></text>
<text font-weight="500" xml:space="preserve" x="1250.9" y="550.0" font-family="'Liberation Sans','Noto Sans CJK JP',sans-serif"><tspan font-size="31" fill="#000">月</tspan></text>
<text transform="translate(1281.0 0) scale(0.9 1)" stroke-width="0.5" xml:space="preserve" x="0.0 20.5" y="550.2 550.2" font-family="'Liberation Sans','Noto Sans CJK JP',sans-serif"><tspan font-size="32" fill="#000" stroke="#000">19</tspan></text>
<text font-weight="500" xml:space="preserve" x="1316.8" y="550.0" font-family="'Liberation Sans','Noto Sans CJK JP',sans-serif"><tspan font-size="31" fill="#000">日</tspan></text>
<text transform="translate(1348.9 0) scale(0.9 1)" stroke-width="0.5" xml:space="preserve" x="0.0" y="550.2" font-family="'Liberation Sans','Noto Sans CJK JP',sans-serif"><tspan font-size="32" fill="#000" stroke="#000">(</tspan></text>
<text font-weight="500" xml:space="preserve" x="1359.7" y="550.0" font-family="'Liberation Sans','Noto Sans CJK JP',sans-serif"><tspan font-size="31" fill="#000">木</tspan></text>
<text transform="translate(1393.0 0) scale(0.9 1)" stroke-width="0.5" xml:space="preserve" x="0.0" y="550.2" font-family="'Liberation Sans','Noto Sans CJK JP',sans-serif"><tspan font-size="32" fill="#000" stroke="#000">)</tspan></text>
</g>
<g>
<text transform="translate(1112.4 0) scale(0.93 1)" xml:space="preserve" x="0.0 6.4 16.3 25.8 35.8" y="571.6 571.6 571.6 571.6 571.6" font-family="'Liberation Sans','Noto Sans CJK JP',sans-serif"><tspan font-size="17.3" fill="#000">(2025</tspan></text>
<text xml:space="preserve" x="1155.7" y="571.9" font-family="'Liberation Sans','Noto Sans CJK JP',sans-serif"><tspan font-size="17.5" fill="#000">年</tspan></text>
<text transform="translate(1173.2 0) scale(0.93 1)" xml:space="preserve" x="0.0 9.4" y="571.6 571.6" font-family="'Liberation Sans','Noto Sans CJK JP',sans-serif"><tspan font-size="17.3" fill="#000">06</tspan></text>
<text xml:space="preserve" x="1193.1" y="571.9" font-family="'Liberation Sans','Noto Sans CJK JP',sans-serif"><tspan font-size="17.5" fill="#000">月</tspan></text>
<text transform="translate(1209.6 0) scale(0.93 1)" xml:space="preserve" x="0.0 9.9" y="571.6 571.6" font-family="'Liberation Sans','Noto Sans CJK JP',sans-serif"><tspan font-size="17.3" fill="#000">19</tspan></text>
<text xml:space="preserve" x="1229.7" y="571.9" font-family="'Liberation Sans','Noto Sans CJK JP',sans-serif"><tspan font-size="17.5" fill="#000">日</tspan></text>
<text transform="translate(1248.0 0) scale(0.93 1)" xml:space="preserve" x="0.0 3.4 14.5 23.9 28.6 38.1" y="571.6 571.6 571.6 571.6 571.6 571.6" font-family="'Liberation Sans','Noto Sans CJK JP',sans-serif"><tspan font-size="17.3" fill="#000"> 15:30</tspan></text>
<text xml:space="preserve" x="1293.5 1312.8" y="571.9 571.9" font-family="'Liberation Sans','Noto Sans CJK JP',sans-serif"><tspan font-size="17.5" fill="#000">現在</tspan></text>
<text transform="translate(1331.0 0) scale(0.93 1)" xml:space="preserve" x="0.0" y="571.6" font-family="'Liberation Sans','Noto Sans CJK JP',sans-serif"><tspan font-size="17.3" fill="#000">)</tspan></text>
</g>
<g>
<text font-weight="500" xml:space="preserve" x="1114.6 1148.6 1173.7" y="603.6 603.6 605.2" font-family="'Liberation Sans','Noto Sans CJK JP',sans-serif"><tspan font-size="30.3" fill="#000">始値</tspan><tspan font-size="29" fill="#000" font-family="'Liberation Sans','IPAGothic',sans-serif">：</tspan></text>
<text transform="translate(1196.2 0) scale(0.84 1)" stroke-width="0.5" xml:space="preserve" x="0.0 20.6 30.6 50.6 71.1 90.4 99.7 118.2" y="603.9 603.9 603.9 603.9 603.9 603.9 603.9 603.9" font-family="'Liberation Sans','Noto Sans CJK JP',sans-serif"><tspan font-size="32" fill="#000" stroke="#000">1,375.51</tspan></text>
<text font-weight="500" xml:space="preserve" x="1311.9 1340.0 1367.5" y="604.6 604.6 604.6" font-family="'Liberation Sans','Noto Sans CJK JP',sans-serif"><tspan font-size="32.4" fill="#000">ウォン</tspan></text>
</g>
<g>
<text font-weight="500" xml:space="preserve" x="1114.8 1148.6 1173.7" y="637.6 637.6 639.2" font-family="'Liberation Sans','Noto Sans CJK JP',sans-serif"><tspan font-size="30.3" fill="#000">高値</tspan><tspan font-size="29" fill="#000" font-family="'Liberation Sans','IPAGothic',sans-serif">：</tspan></text>
<text transform="translate(1196.2 0) scale(0.84 1)" stroke-width="0.5" xml:space="preserve" x="0.0 20.6 30.6 50.9 71.1 90.4 99.4 118.2" y="637.9 637.9 637.9 637.9 637.9 637.9 637.9 637.9" font-family="'Liberation Sans','Noto Sans CJK JP',sans-serif"><tspan font-size="32" fill="#c00000" stroke="#c00000">1,385.61</tspan></text>
<text font-weight="500" xml:space="preserve" x="1311.9 1340.0 1367.5" y="638.6 638.6 638.6" font-family="'Liberation Sans','Noto Sans CJK JP',sans-serif"><tspan font-size="32.4" fill="#000">ウォン</tspan></text>
</g>
<g>
<text font-weight="500" xml:space="preserve" x="1114.8 1148.6 1173.7" y="671.6 671.6 673.2" font-family="'Liberation Sans','Noto Sans CJK JP',sans-serif"><tspan font-size="30.3" fill="#000">安値</tspan><tspan font-size="29" fill="#000" font-family="'Liberation Sans','IPAGothic',sans-serif">：</tspan></text>
<text transform="translate(1196.2 0) scale(0.84 1)" stroke-width="0.5" xml:space="preserve" x="0.0 20.6 30.6 50.6 71.1 90.4 99.4 120.4" y="671.9 671.9 671.9 671.9 671.9 671.9 671.9 671.9" font-family="'Liberation Sans','Noto Sans CJK JP',sans-serif"><tspan font-size="32" fill="#000" stroke="#000">1,375.05</tspan></text>
<text font-weight="500" xml:space="preserve" x="1311.9 1340.0 1367.5" y="672.6 672.6 672.6" font-family="'Liberation Sans','Noto Sans CJK JP',sans-serif"><tspan font-size="32.4" fill="#000">ウォン</tspan></text>
</g>
<g>
<text font-weight="500" xml:space="preserve" x="1114.8 1148.6 1173.7" y="705.6 705.6 707.2" font-family="'Liberation Sans','Noto Sans CJK JP',sans-serif"><tspan font-size="30.3" fill="#000">終値</tspan><tspan font-size="29" fill="#000" font-family="'Liberation Sans','IPAGothic',sans-serif">：</tspan></text>
<text transform="translate(1196.2 0) scale(0.84 1)" stroke-width="0.5" xml:space="preserve" x="0.0 20.6 30.6 50.9 70.8 90.4 99.4 120.4" y="705.9 705.9 705.9 705.9 705.9 705.9 705.9 705.9" font-family="'Liberation Sans','Noto Sans CJK JP',sans-serif"><tspan font-size="32" fill="#c00000" stroke="#c00000">1,380.05</tspan></text>
<text font-weight="500" xml:space="preserve" x="1311.9 1340.0 1367.5" y="706.6 706.6 706.6" font-family="'Liberation Sans','Noto Sans CJK JP',sans-serif"><tspan font-size="32.4" fill="#000">ウォン</tspan></text>
</g>
<g>
<text xml:space="preserve" x="1219.0 1238.9 1257.2 1276.6 1298.1 1320.4 1331.1 1353.2" y="121.0 121.0 121.3 121.0 121.0 121.0 121.0 121.0" font-family="'Liberation Sans','Noto Sans CJK JP',sans-serif" font-weight="bold"><tspan font-size="21" fill="#000">「ウ</tspan><tspan font-size="23.5" fill="#000">ォ</tspan><tspan font-size="21" fill="#000">ン安」方向</tspan></text>
</g>
<g>
<text xml:space="preserve" x="1215.6 1236.7 1255.0 1274.9 1296.3 1318.8 1329.5 1351.2" y="195.2 195.2 195.5 195.2 195.2 195.2 195.2 195.2" font-family="'Liberation Sans','Noto Sans CJK JP',sans-serif" font-weight="bold"><tspan font-size="21" fill="#000">「ウ</tspan><tspan font-size="23.5" fill="#000">ォ</tspan><tspan font-size="21" fill="#000">ン高」方向</tspan></text>
</g>
</g>
<g shape-rendering="auto">
<rect x="5.5" y="10" width="12" height="11.5" rx="2" ry="2" fill="#fff" stroke="#6a6a6a" stroke-width="1"/>
<line x1="7.5" y1="15.7" x2="15.5" y2="15.7" stroke="#6a6a6a" stroke-width="1"/>
<polygon points="308,14 316,14 312,18.2" fill="#c8ccd0"/>
<rect x="326" y="9" width="14" height="14" fill="#d8d8d8"/>
<path d="M327.4,16 Q333,9.6 338.6,16 Q333,22.4 327.4,16 Z" fill="#fff"/>
<circle cx="333" cy="16" r="2.6" fill="#d8d8d8"/>
<circle cx="333" cy="16" r="1.2" fill="#fff"/>
<rect x="343" y="9" width="14" height="14" fill="#d8d8d8"/>
<rect x="348.9" y="10.6" width="2.2" height="10.8" fill="#fff" transform="rotate(0 350 16)"/><rect x="348.9" y="10.6" width="2.2" height="10.8" fill="#fff" transform="rotate(45 350 16)"/><rect x="348.9" y="10.6" width="2.2" height="10.8" fill="#fff" transform="rotate(90 350 16)"/><rect x="348.9" y="10.6" width="2.2" height="10.8" fill="#fff" transform="rotate(135 350 16)"/><rect x="348.9" y="10.6" width="2.2" height="10.8" fill="#fff" transform="rotate(180 350 16)"/><rect x="348.9" y="10.6" width="2.2" height="10.8" fill="#fff" transform="rotate(225 350 16)"/><rect x="348.9" y="10.6" width="2.2" height="10.8" fill="#fff" transform="rotate(270 350 16)"/><rect x="348.9" y="10.6" width="2.2" height="10.8" fill="#fff" transform="rotate(315 350 16)"/>
<circle cx="350" cy="16" r="3.9" fill="#fff"/>
<circle cx="350" cy="16" r="1.8" fill="#d8d8d8"/>
</g>
</svg>
<div class="yl" style="top:14px">1500.00</div>
<div class="yl" style="top:67px">1490.00</div>
<div class="yl" style="top:121px">1480.00</div>
<div class="yl" style="top:174px">1470.00</div>
<div class="yl" style="top:227px">1460.00</div>
<div class="yl" style="top:281px">1450.00</div>
<div class="yl" style="top:334px">1440.00</div>
<div class="yl" style="top:388px">1430.00</div>
<div class="yl" style="top:441px">1420.00</div>
<div class="yl" style="top:494px">1410.00</div>
<div class="yl" style="top:548px">1400.00</div>
<div class="yl" style="top:601px">1390.00</div>
<div class="yl" style="top:708px">1370.00</div>
<div class="yl" style="top:761px">1360.00</div>
<div class="yl" style="top:815px">1350.00</div>
<div class="yl yb" style="top:40px">1495.14</div>
<div class="yl yb" style="top:654px">1380.05</div>
<div class="xl" style="left:-19px;">17</div>
<div class="xl" style="left:61px; font-weight:bold;">2025</div>
<div class="xl" style="left:141px;">16</div>
<div class="xl" style="left:228px;">2月</div>
<div class="xl" style="left:374px;">3月</div>
<div class="xl" style="left:527px;">4月</div>
<div class="xl" style="left:607px;">16</div>
<div class="xl" style="left:687px;">5月</div>
<div class="xl" style="left:767px;">16</div>
<div class="xl" style="left:847px;">6月</div>
<div class="xl" style="left:1000px;">7月</div>
<div class="xl" style="left:1080px;">16</div>
<div class="xl" style="left:1168px;">8月</div>
<div class="xl" style="left:1321px;">9月</div>
<div class="xl" style="left:1380px;font-weight:bold;color:#fff;">2025-09-15</div>
<div class="hd" style="left:24px;top:5.6px;font-size:16px;letter-spacing:-0.55px;color:#4c4c4c;-webkit-text-stroke:0.25px #4c4c4c;">USD/KRW,</div>
<div class="hd hj" style="left:104.7px;top:5.5px;font-size:17px;">日,</div>
<div class="hd hj" style="left:133.9px;top:5.5px;font-size:17.2px;letter-spacing:-0.27px;">リアルタイム外国為替</div>
<div class="hd hj" style="left:364.3px;top:5.5px;font-size:15.2px;letter-spacing:-0.3px;">始値</div>
<div class="hd hv" style="left:395.9px;top:6px;font-size:14.8px;letter-spacing:-0.5px;">1375.51</div>
<div class="hd hj" style="left:458px;top:5.5px;font-size:15.2px;letter-spacing:-0.3px;">高値</div>
<div class="hd hv" style="left:489px;top:6px;font-size:14.8px;letter-spacing:-0.5px;">1385.61</div>
<div class="hd hj" style="left:550.5px;top:5.5px;font-size:15.2px;letter-spacing:-0.3px;">安値</div>
<div class="hd hv" style="left:582px;top:6px;font-size:14.8px;letter-spacing:-0.5px;">1375.05</div>
<div class="hd hj" style="left:643px;top:5.5px;font-size:15.2px;letter-spacing:-0.3px;">終値</div>
<div class="hd hv" style="left:674.4px;top:6px;font-size:14.8px;letter-spacing:-0.5px;">1380.05</div>
<div class="t" style="left:13px;top:825px;font-size:22.3px;line-height:26px;font-weight:bold;color:#111;letter-spacing:-0.95px;">Investing<span style="font-weight:normal;font-size:16.3px;color:#444;letter-spacing:-0.9px;">.com</span></div>
<div class="t" style="left:72.6px;top:828.4px;width:5.2px;height:3.6px;background:#ffa200;transform:rotate(-28deg) skewX(-20deg);border-radius:1.5px;"></div>
</body></html>
